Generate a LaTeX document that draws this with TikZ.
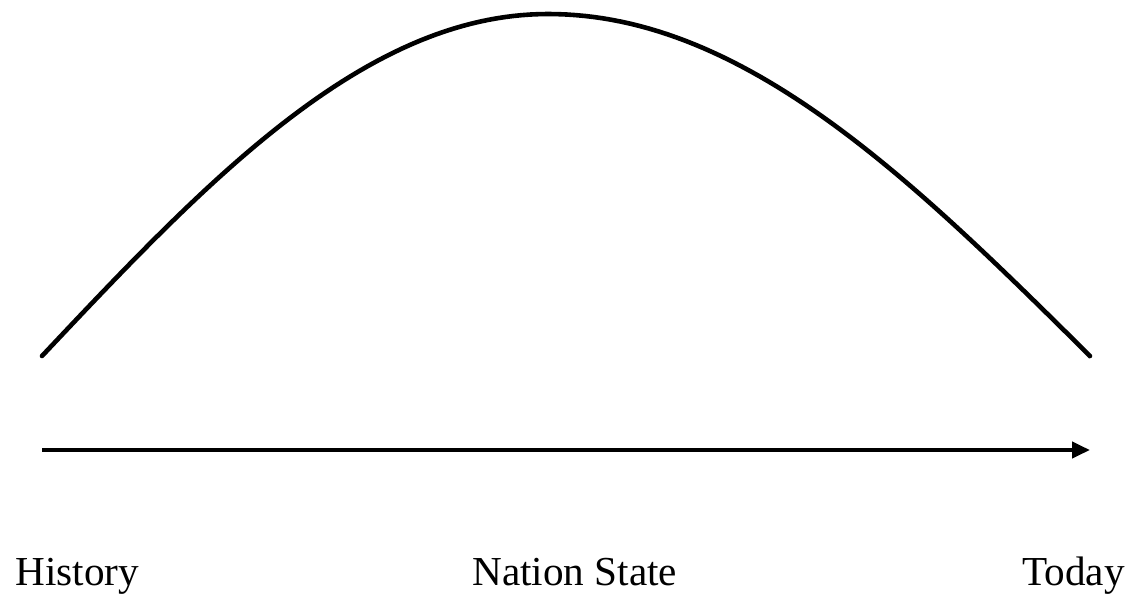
\documentclass[tikz,border=0pt]{standalone}
\usepackage{fontspec}
\setmainfont{Liberation Serif}
\usetikzlibrary{arrows.meta}
\tikzset{
  curveline/.style={line width=2.3pt, line cap=round},
  timeline/.style={line width=2.2pt, -{Triangle[length=9pt,width=8pt]}},
  label/.style={inner sep=0pt, font=\fontsize{20.6pt}{24pt}\selectfont}
}
\begin{document}
\begin{tikzpicture}[x=0.5pt,y=-0.5pt]
\useasboundingbox (0,0) rectangle (1132,594);
\coordinate (cs) at (42,356);
\coordinate (cp) at (548,14);
\coordinate (ce) at (1090,356);
\draw[curveline] (cs) -- plot[domain=0:90,samples=60,variable=\t] ({42+(\t/90)*506},{356-342*sin(\t)})
  -- plot[domain=0:90,samples=60,variable=\t] ({548+(\t/90)*542},{356-342*cos(\t)}) -- (ce);
\coordinate (as) at (42,450);
\coordinate (ae) at (1090,450);
\draw[timeline] (as) -- (ae);
\node[label, anchor=base west] (hist) at (15,585) {History};
\node[label, anchor=base west] (nat) at (472,585) {Nation State};
\node[label, anchor=base east] (tod) at (1125,585) {Today};
\end{tikzpicture}
\end{document}
